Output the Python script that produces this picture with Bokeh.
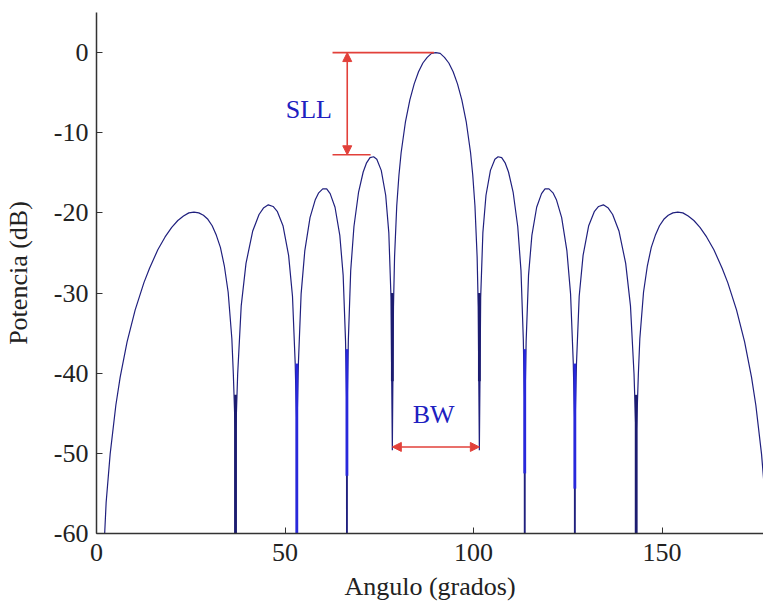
from bokeh.plotting import figure
from bokeh.models import Range1d, FixedTicker, Label, Arrow, NormalHead, ColumnDataSource
from bokeh.embed import file_html
from bokeh.resources import INLINE

# ---- data ----
angle_deg = [
    0, 1.15, 2.56, 3.62, 5.13, 6.28, 8.11, 10.26, 12.58, 14.07, 16.26, 18.19, 19.95, 21.57,
    23.07, 24.49, 25.84, 27.13, 28.36, 29.54, 30.68, 31.79, 32.86, 33.90, 34.92, 35.90, 36.29, 36.77, 36.87, 36.97,
    37.44, 38.38, 39.65, 41.41, 43.11, 44.27, 45.57, 46.84, 47.93, 49.46, 50.95, 51.98, 52.70, 53.03, 53.13, 53.23,
    53.56, 54.27, 55.25, 56.63, 57.99, 58.93, 60.00, 61.05, 61.97, 63.26, 64.53, 65.42, 66.05, 66.32, 66.42, 66.52,
    66.80, 67.42, 68.28, 69.51, 70.73, 71.58, 72.54, 73.50, 74.34, 75.52, 76.70, 77.53, 78.11, 78.46,
    78.76, 79.05, 79.63, 80.21, 80.79, 81.95, 83.11, 84.26, 85.41, 86.56, 87.71, 88.85, 90.00,
    91.15, 92.29, 93.44, 94.59, 95.74, 96.89, 98.05, 99.21, 99.79, 100.37, 100.95, 101.24, 101.54,
    101.89, 102.47, 103.30, 104.48, 105.66, 106.50, 107.46, 108.42, 109.27, 110.49, 111.72, 112.58, 113.20, 113.48, 113.58, 113.68,
    113.95, 114.58, 115.47, 116.74, 118.03, 118.95, 120.00, 121.07, 122.01, 123.37, 124.75, 125.73, 126.44, 126.77, 126.87, 126.97,
    127.30, 128.02, 129.05, 130.54, 132.07, 133.16, 134.43, 135.73, 136.89, 138.59, 140.35, 141.62, 142.56, 143.03, 143.13, 143.23,
    143.71, 144.10, 145.08, 146.10, 147.14, 148.21, 149.32, 150.46, 151.64, 152.87, 154.16, 155.51, 156.93,
    158.43, 160.05, 161.81, 163.74, 165.93, 167.42, 169.74, 171.89, 173.72, 174.87, 176.38, 177.44, 178.85, 180.0,
]
power_db = [
    -300, -70.1, -56.1, -50.1, -44.0, -40.5, -36.1, -32.1, -28.7, -26.9, -24.6, -23.0, -21.8, -20.95,
    -20.4, -20.0, -19.9, -20.0, -20.3, -20.8, -21.6, -22.8, -24.3, -26.6, -29.9, -35.7, -40.1, -47.0, -300, -47.0,
    -40.1, -31.6, -26.3, -22.3, -20.2, -19.4, -19.0, -19.2, -19.8, -21.6, -25.3, -30.4, -38.8, -45.5, -300, -45.5,
    -38.6, -30.1, -24.7, -20.6, -18.4, -17.5, -17.0, -17.0, -17.6, -19.3, -22.8, -27.8, -36.0, -43.0, -300, -43.0,
    -35.8, -27.2, -21.7, -17.4, -14.9, -13.8, -13.1, -13.0, -13.3, -14.7, -17.8, -22.5, -30.6, -49.6,
    -31.7, -25.5, -19.1, -15.3, -12.5, -8.6, -5.9, -3.9, -2.4, -1.3, -0.6, -0.1, 0.0,
    -0.1, -0.6, -1.3, -2.4, -3.9, -5.9, -8.6, -12.5, -15.3, -19.1, -25.5, -31.7, -49.6,
    -30.6, -22.5, -17.8, -14.7, -13.3, -13.0, -13.1, -13.8, -14.9, -17.4, -21.7, -27.2, -35.8, -43.0, -300, -43.0,
    -36.0, -27.8, -22.8, -19.3, -17.6, -17.0, -17.0, -17.5, -18.4, -20.6, -24.7, -30.1, -38.6, -45.5, -300, -45.5,
    -38.8, -30.4, -25.3, -21.6, -19.8, -19.2, -19.0, -19.4, -20.2, -22.3, -26.3, -31.6, -40.1, -47.0, -300, -47.0,
    -40.1, -35.7, -29.9, -26.6, -24.3, -22.8, -21.6, -20.8, -20.3, -20.0, -19.9, -20.0, -20.4,
    -20.95, -21.8, -23.0, -24.6, -26.9, -28.7, -32.1, -36.1, -40.5, -44.0, -50.1, -56.1, -70.1, -300,
]
assert len(angle_deg) == len(power_db)

# null spikes (drawn thicker in the picture)
null_angle = [36.87, 53.13, 66.42, 78.46, 101.54, 113.58, 126.87, 143.13]
null_top = [-42.7, -38.8, -37.0, -30.0, -30.0, -37.0, -38.8, -42.7]
null_bottom = [-60.0, -60.0, -52.8, -41.0, -41.0, -52.5, -54.4, -60.0]
null_color = ["#1c1c70", "#2828dc", "#2828dc", "#1c1c70", "#1c1c70", "#2828dc", "#2828dc", "#1c1c70"]

x_ticks = [0, 50, 100, 150]
x_tick_labels = ["0", "50", "100", "150"]
y_ticks = [-60, -50, -40, -30, -20, -10, 0]
y_tick_labels = ["-60", "-50", "-40", "-30", "-20", "-10", "0"]

# annotations
sll_x0 = [62.6, 62.6]
sll_x1 = [89.5, 72.7]
sll_y = [0.0, -12.75]
sll_arrow_x = 66.5
sll_text_pos = (56.3, -7.1)
bw_left, bw_right, bw_y = 78.46, 101.54, -49.2
bw_text_pos = (89.4, -47.0)

RED = "#e2403a"
NAVY = "#20207e"
TXT_BLUE = "#2020c0"
FONT = "Liberation Serif"

p = figure(width=763, height=611, output_backend="svg", toolbar_location=None,
           x_range=Range1d(0, 176.9), y_range=Range1d(-60, 5),
           min_border_left=96, min_border_right=0, min_border_top=12, min_border_bottom=78,
           background_fill_color="white", border_fill_color="white")
p.outline_line_color = None
p.xgrid.visible = False
p.ygrid.visible = False

p.line(angle_deg, power_db, line_color=NAVY, line_width=1.2)

src = ColumnDataSource(dict(x=null_angle, y0=null_top, y1=null_bottom, c=null_color))
p.segment(x0="x", y0="y0", x1="x", y1="y1", source=src, line_color="c", line_width=2.8)

# SLL annotation
p.segment(x0=sll_x0, y0=sll_y, x1=sll_x1, y1=sll_y, line_color=RED, line_width=1.6)
p.add_layout(Arrow(x_start=sll_arrow_x, y_start=sll_y[1], x_end=sll_arrow_x, y_end=sll_y[0],
                   line_color=RED, line_width=1.6,
                   start=NormalHead(size=9, fill_color=RED, line_color=RED),
                   end=NormalHead(size=9, fill_color=RED, line_color=RED)))
p.add_layout(Label(x=sll_text_pos[0], y=sll_text_pos[1], text="SLL", text_align="center",
                   text_baseline="middle", text_font=FONT, text_font_size="26px", text_color=TXT_BLUE))

# BW annotation
p.add_layout(Arrow(x_start=bw_left, y_start=bw_y, x_end=bw_right, y_end=bw_y,
                   line_color=RED, line_width=1.6,
                   start=NormalHead(size=9, fill_color=RED, line_color=RED),
                   end=NormalHead(size=9, fill_color=RED, line_color=RED)))
p.add_layout(Label(x=bw_text_pos[0], y=bw_text_pos[1], text="BW", text_align="center",
                   text_baseline="bottom", text_font=FONT, text_font_size="26px", text_color=TXT_BLUE))

for ax, ticks, labels in ((p.xaxis, x_ticks, x_tick_labels), (p.yaxis, y_ticks, y_tick_labels)):
    ax.ticker = FixedTicker(ticks=ticks)
    ax.major_label_overrides = {t: l for t, l in zip(ticks, labels)}
    ax.axis_line_color = "#333333"
    ax.axis_line_width = 1.5
    ax.major_tick_line_color = "#333333"
    ax.major_tick_in = 6
    ax.major_tick_out = 0
    ax.minor_tick_line_color = None
    ax.major_label_text_font = FONT
    ax.major_label_text_font_size = "26px"
    ax.major_label_text_color = "#222222"
    ax.axis_label_text_font = FONT
    ax.axis_label_text_font_size = "26px"
    ax.axis_label_text_font_style = "normal"
    ax.axis_label_text_color = "#222222"

p.xaxis.axis_label = "Angulo (grados)"
p.yaxis.axis_label = "Potencia (dB)"
p.xaxis.major_label_standoff = 10
p.yaxis.major_label_standoff = 8
p.xaxis.axis_label_standoff = 8
p.yaxis.axis_label_standoff = 18

open("out.html", "w").write(file_html(p, INLINE))
